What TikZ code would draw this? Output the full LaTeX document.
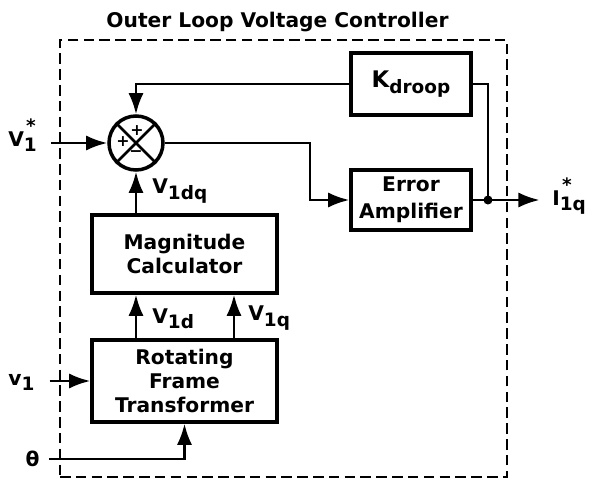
\documentclass[tikz,border=0pt]{standalone}
\usepackage{fontspec}
\setmainfont{DejaVu Sans}
\usetikzlibrary{arrows.meta}

\newcommand\lsub[1]{\raisebox{-0.5ex}{\fontsize{10.5}{12}\selectfont #1}}
\newcommand\starsub[1]{\raisebox{-0.5ex}{\fontsize{10.5}{12}\selectfont\makebox[0pt][l]{\kern0.12em\raisebox{1.05em}{*}}#1}}

\begin{document}
\begin{tikzpicture}[
    font=\fontsize{11.5}{13.5}\selectfont\bfseries,
    bloc/.style={draw, line width=2pt, align=center, inner sep=0pt},
    fleche/.style={line width=1.4pt, -{Latex[length=4.2mm,width=3mm]}},
    ligne/.style={line width=1.4pt},
    signe/.style={font=\fontsize{9}{10}\selectfont\bfseries, inner sep=0pt}
]
    \useasboundingbox (0,0) rectangle (11.82,9.6);

    % Cadre
    \node (titre) at (5.55,9.16) {Outer Loop Voltage Controller};
    \node[draw, line width=1pt, dash pattern=on 6pt off 3pt, minimum width=8.94cm, minimum height=8.74cm, inner sep=0pt] (cadre) at (5.67,4.43) {};

    % Blocs
    \node[bloc, minimum width=2.4cm, minimum height=1.24cm] (kdroop) at (8.22,7.92) {{\fontsize{13}{15}\selectfont K}\lsub{droop}};
    \node[bloc, minimum width=2.4cm, minimum height=1.2cm] (erramp) at (8.22,5.6) {Error\\[2pt]Amplifier};
    \node[bloc, minimum width=3.7cm, minimum height=1.56cm] (magcalc) at (3.69,4.52) {Magnitude\\Calculator};
    \node[bloc, minimum width=3.7cm, minimum height=1.64cm] (rft) at (3.69,1.98) {Rotating\\Frame\\Transformer};

    % Sommateur
    \node[draw, circle, line width=2pt, minimum size=1.08cm, inner sep=0pt] (sum) at (2.72,6.74) {};
    \draw[line width=1.6pt] (sum.north west) -- (sum.south east) (sum.north east) -- (sum.south west);
    \node[signe] (plushaut) at (2.74,6.98) {+};
    \node[signe] (plusgauche) at (2.46,6.76) {+};
    \node[signe] (moins) at (2.72,6.52) {−};

    % Entrées / sorties
    \node[anchor=base west, inner sep=0pt] (vref) at (0.16,6.68) {V\starsub{1}};
    \node[anchor=base west, inner sep=0pt] (vin) at (0.16,1.9) {v\lsub{1}};
    \node[inner sep=0pt] (theta) at (0.65,0.42) {θ};
    \node[anchor=base west, inner sep=0pt] (iq) at (11.04,5.5) {I\starsub{1q}};
    \node[anchor=west, inner sep=0pt] (vdq) at (3.04,5.78) {V\lsub{1dq}};
    \node[anchor=west, inner sep=0pt] (vd) at (3.04,3.22) {V\lsub{1d}};
    \node[anchor=west, inner sep=0pt] (vq) at (4.96,3.24) {V\lsub{1q}};
    \coordinate (coude) at (6.2,6.74);
    \coordinate (noeud) at (9.76,5.6);
    \coordinate (qx) at (4.68,3);

    % Liaisons
    \draw[fleche] ([xshift=0.28cm]vref.east |- sum.west) -- (sum.west);
    \draw[fleche] (kdroop.west) -| (sum.north);
    \draw[fleche] (sum.east) -- (coude) |- (erramp.west);
    \draw[fleche, shorten >=0.25cm] (erramp.east) -- (iq.west |- erramp.east);
    \draw[ligne] (kdroop.east) -| (noeud);
    \fill (noeud) circle (0.09);
    \draw[fleche] (magcalc.north -| sum.south) -- (sum.south);
    \draw[fleche] (rft.north -| sum.south) -- (magcalc.south -| sum.south);
    \draw[fleche] (rft.north -| qx) -- (magcalc.south -| qx);
    \draw[fleche] ([xshift=0.3cm]vin.east |- rft.west) -- (rft.west);
    \draw[fleche] ([xshift=0.18cm]theta.east) -| (rft.south);

\end{tikzpicture}
\end{document}
